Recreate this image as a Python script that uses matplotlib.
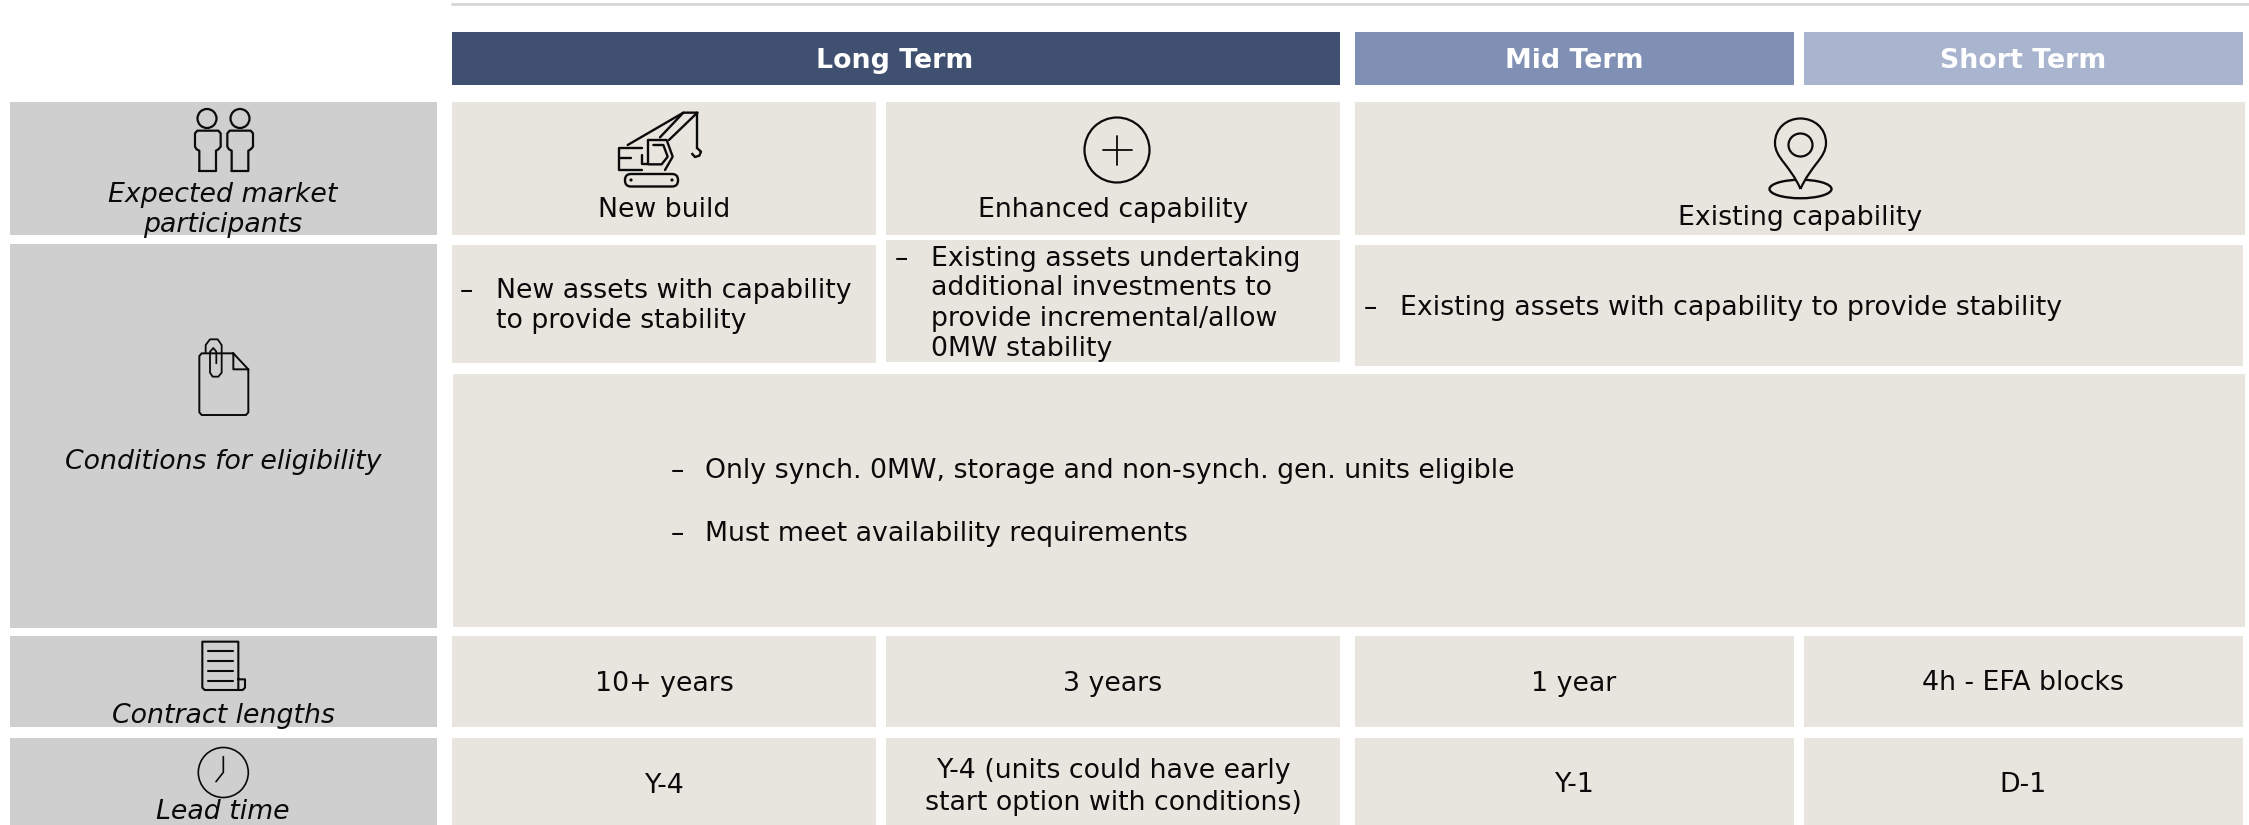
import matplotlib
matplotlib.use("Agg")
import matplotlib.pyplot as plt
from matplotlib.patches import Rectangle, Circle, Ellipse, PathPatch, FancyBboxPatch
from matplotlib.path import Path

W, H = 2249, 825
FONT = "DejaVu Sans"
FS = 19.3
INK = "#0a0a0a"
CELL = "#E8E5DF"
SIDE = "#CFCFCF"

# ---- content ----
term_labels = ["Long Term", "Mid Term", "Short Term"]
term_colors = ["#405070", "#8090B4", "#A9B5CE"]
row_labels = [["Expected market", "participants"], ["Conditions for eligibility"],
              ["Contract lengths"], ["Lead time"]]
participants = ["New build", "Enhanced capability", "Existing capability"]
cond_new = ["New assets with capability", "to provide stability"]
cond_enh = ["Existing assets undertaking", "additional investments to",
            "provide incremental/allow", "0MW stability"]
cond_exist = ["Existing assets with capability to provide stability"]
cond_all = ["Only synch. 0MW, storage and non-synch. gen. units eligible",
            "Must meet availability requirements"]
contract_lengths = ["10+ years", "3 years", "1 year", "4h - EFA blocks"]
lead_times = [["Y-4"], ["Y-4 (units could have early", "start option with conditions)"], ["Y-1"], ["D-1"]]

fig = plt.figure(figsize=(W / 100, H / 100), dpi=100, facecolor="white")
ax = fig.add_axes([0, 0, 1, 1])
ax.set_xlim(0, W)
ax.set_ylim(H, 0)
ax.axis("off")


def box(x0, y0, x1, y1, color):
    ax.add_patch(Rectangle((x0, y0), x1 - x0, y1 - y0, fc=color, ec="none", zorder=1))


def txt(x, y, s, ha="center", **kw):
    kw.setdefault("color", INK)
    kw.setdefault("fontsize", FS)
    ax.text(x, y, s, ha=ha, va="baseline", family=FONT, zorder=4, **kw)


def line(pts, lw=1.6, color=INK, z=3):
    xs, ys = zip(*pts)
    ax.plot(xs, ys, color=color, lw=lw, solid_capstyle="round", solid_joinstyle="round", zorder=z)


def zoomed(ox, oy, pts):
    return [(ox + x / 3, oy + y / 3) for x, y in pts]


# top rule
ax.plot([452, W], [4, 4], color="#D4D4D4", lw=1.8, zorder=1)

# headers
for (x0, x1), lab, col, cx in zip([(452, 1340), (1355, 1794), (1804, 2243)], term_labels, term_colors,
                                  [895, 1574, 2023]):
    box(x0, 32, x1, 85, col)
    txt(cx, 68, lab, color="white", fontweight="bold")

# side column
for y0, y1 in [(102, 235), (244, 628), (636, 727), (738, 825)]:
    box(10, y0, 437, y1, SIDE)
for lines, ys in zip(row_labels, [(202, 232), (469,), (723,), (819,)]):
    for s, y in zip(lines, ys):
        txt(223, y, s, style="italic")

# body cells
for c in [(452, 102, 876, 235), (886, 102, 1340, 235), (1355, 102, 2245, 235),
          (452, 245, 876, 363), (886, 240, 1340, 362), (1355, 245, 2243, 366),
          (453, 374, 2245, 627),
          (452, 636, 876, 727), (886, 636, 1340, 727), (1355, 636, 1794, 727), (1804, 636, 2243, 727),
          (452, 738, 876, 825), (886, 738, 1340, 825), (1355, 738, 1794, 825), (1804, 738, 2243, 825)]:
    box(*c, CELL)

# participants
for s, cx, y in zip(participants, [664, 1113, 1800], [217, 217, 225]):
    txt(cx, y, s)


def bullets(dash_x, text_x, items, baselines):
    for s, y in zip(items, baselines):
        txt(text_x, y, s, ha="left")
    ax.text(dash_x, baselines[0], "\u2013", ha="left", va="baseline", family=FONT,
            fontsize=FS, color=INK, zorder=4)


bullets(460, 496, cond_new, [298, 328])
bullets(895, 931, cond_enh, [266, 295, 326, 356])
bullets(1364, 1400, cond_exist, [315])
bullets(671, 705, cond_all[:1], [478])
bullets(671, 705, cond_all[1:], [541])

# contract and lead rows
centres = [664, 1113, 1574, 2023]
for s, cx, y in zip(contract_lengths, centres, [691, 691, 691, 690]):
    txt(cx, y, s)
for lines, cx, ys in zip(lead_times, centres, [(793,), (778, 810), (792,), (792,)]):
    for s, y in zip(lines, ys):
        txt(cx, y, s)

# ---- icons ----
# people
for hx, bx in [(207, 0), (240, 97)]:
    ax.add_patch(Circle((hx, 118.5), 9.5, fc="none", ec=INK, lw=1.6, zorder=3))
    body = [(58, 213), (58, 152), (50, 148), (45, 140), (45, 100), (52, 92), (115, 92), (122, 100),
            (122, 140), (115, 148), (108, 152), (108, 213), (58, 213)]
    line(zoomed(180 + bx / 3, 100, body), lw=1.6)

# crane
o = (600, 105)
for seg in [[(83, 120), (250, 23), (292, 23)], [(180, 97), (250, 23)], [(207, 105), (292, 23)],
            [(292, 23), (292, 130)],
            [(125, 128), (58, 128), (58, 195), (125, 195)], [(60, 160), (92, 160)],
            [(145, 105), (145, 178), (125, 178), (125, 150)],
            [(145, 105), (200, 105), (218, 155), (195, 195)],
            [(160, 120), (190, 120), (203, 155), (185, 178), (145, 178)]]:
    line(zoomed(*o, seg), lw=1.7)
ax.plot(*zip(*zoomed(*o, [(292, 130), (303, 140), (298, 152), (285, 156), (277, 147)])),
        color=INK, lw=1.7, zorder=3)
ax.add_patch(FancyBboxPatch((625, 174), 53, 12.5, boxstyle="round,pad=0,rounding_size=6",
                            fc="none", ec=INK, lw=1.7, zorder=3))
for dx in (631, 672):
    ax.add_patch(Circle((dx, 180), 1.6, fc=INK, ec="none", zorder=3))

# plus
ax.add_patch(Circle((1117, 150), 32.5, fc="none", ec=INK, lw=1.6, zorder=3))
line([(1103, 150), (1132, 150)], lw=1.3)
line([(1117, 136), (1117, 165)], lw=1.3)

# pin
ax.add_patch(Ellipse((1800.5, 189), 62, 18.5, fc="none", ec=INK, lw=1.7, zorder=3))
pin = Path([(1800.5, 189), (1790, 165), (1775, 158), (1775, 143),
            (1775, 128), (1787, 118.5), (1800.5, 118.5),
            (1814, 118.5), (1826, 128), (1826, 143),
            (1826, 158), (1811, 165), (1800.5, 189)],
           [Path.MOVETO] + [Path.CURVE4] * 12)
ax.add_patch(PathPatch(pin, fc=CELL, ec=INK, lw=1.6, zorder=3))
ax.add_patch(Ellipse((1800.5, 145), 24, 23, fc="none", ec=INK, lw=1.6, zorder=3))

# document
o = (170, 330)
line(zoomed(*o, [(190, 70), (95, 70), (88, 78), (88, 247), (95, 255), (228, 255), (235, 247), (235, 118),
                 (190, 70), (190, 118), (235, 118)]), lw=1.4)
line(zoomed(*o, [(139, 100), (139, 65), (130, 54), (120, 65), (120, 128), (128, 140), (145, 140),
                 (155, 128), (155, 45), (143, 28), (120, 28), (107, 45), (107, 68)]), lw=1.3)

# contract
o = (180, 635)
line(zoomed(*o, [(175, 133), (175, 20), (67, 20), (67, 158), (74, 165), (188, 165), (195, 158), (195, 133),
                 (175, 133), (175, 165)]), lw=1.5)
for ly in (47, 77, 108, 138):
    line(zoomed(*o, [(83, ly), (158, ly)]), lw=1.5)

# clock
ax.add_patch(Circle((223.3, 772.5), 25, fc="none", ec=INK, lw=1.2, zorder=3))
line(zoomed(180, 635, [(130, 365), (130, 412), (108, 440)]), lw=1.2)

fig.savefig("out.png", dpi=100, facecolor="white")
